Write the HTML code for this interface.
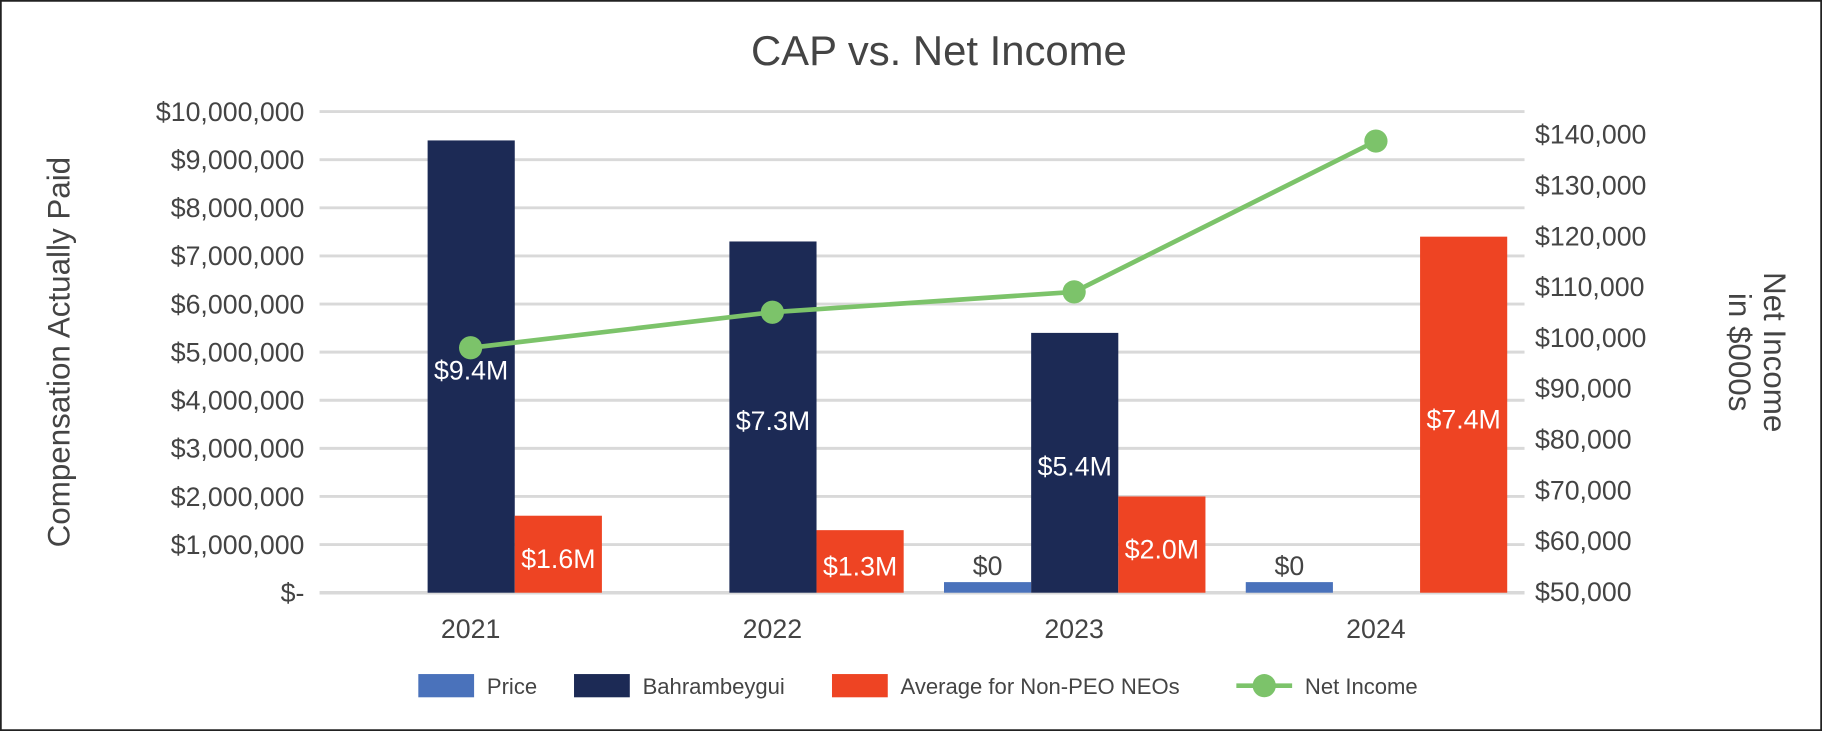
<!DOCTYPE html>
<html><head><meta charset="utf-8"><style>
html,body{margin:0;padding:0;background:#fff}
svg{display:block;font-family:"Liberation Sans",Arial,sans-serif}
</style></head><body>
<svg id="chart" width="1822" height="731" viewBox="0 0 1568 629" preserveAspectRatio="none" xmlns="http://www.w3.org/2000/svg">
<rect x="0.5" y="0.5" width="1567" height="628" fill="#fff" stroke="#222" stroke-width="2"/>
<text x="808" y="56" text-anchor="middle" font-size="36" fill="#444">CAP vs. Net Income</text>
<g id="grid"></g><g id="bars"></g><g id="line"></g><g id="labels"></g>
<text transform="translate(60,303) rotate(-90)" text-anchor="middle" font-size="27" fill="#444">Compensation Actually Paid</text>
<text transform="translate(1514,303) rotate(90)" text-anchor="middle" font-size="27" fill="#444"><tspan x="0" dy="-4">Net Income</tspan><tspan x="0" dy="30">in $000s</tspan></text>
<g font-size="19" fill="#444">
<rect x="360" y="580" width="48" height="20" fill="#4a72bb"/>
<text x="419" y="597">Price</text>
<rect x="494" y="580" width="48" height="20" fill="#1c2a55"/>
<text x="553" y="597">Bahrambeygui</text>
<rect x="716" y="580" width="48" height="20" fill="#ee4423"/>
<text x="775" y="597">Average for Non-PEO NEOs</text>
<line x1="1064" y1="590" x2="1112" y2="590" stroke="#7cc36a" stroke-width="4"/>
<circle cx="1088" cy="590" r="10" fill="#7cc36a"/>
<text x="1123" y="597">Net Income</text>
</g>
</svg>
<script>
const categories=["2021","2022","2023","2024"];
const priceVals=[0,0,220000,220000];
const priceLabels=["","","$0","$0"];
const bahrVals=[9400000,7300000,5400000,0];
const bahrLabels=["$9.4M","$7.3M","$5.4M",""];
const avgVals=[1600000,1300000,2000000,7400000];
const avgLabels=["$1.6M","$1.3M","$2.0M","$7.4M"];
const netIncome=[98000,105000,109000,138700];
const leftTicks=[0,1e6,2e6,3e6,4e6,5e6,6e6,7e6,8e6,9e6,10e6];
const leftTickLabels=["$-","$1,000,000","$2,000,000","$3,000,000","$4,000,000","$5,000,000","$6,000,000","$7,000,000","$8,000,000","$9,000,000","$10,000,000"];
const rightTicks=[50000,60000,70000,80000,90000,100000,110000,120000,130000,140000];
const rightTickLabels=["$50,000","$60,000","$70,000","$80,000","$90,000","$100,000","$110,000","$120,000","$130,000","$140,000"];

const NS="http://www.w3.org/2000/svg";
const yL=v=>510-v/1e7*414;
const yR=v=>509-(v-50000)/10000*43.7;
const xC=i=>405+i*259.7;
function mk(tag,attrs,parent,text){const e=document.createElementNS(NS,tag);for(const k in attrs)e.setAttribute(k,attrs[k]);if(text!==undefined)e.textContent=text;parent.appendChild(e);return e;}
const grid=document.getElementById('grid'),bars=document.getElementById('bars'),line=document.getElementById('line'),labels=document.getElementById('labels');
leftTicks.forEach((t,i)=>{
  const l=mk('line',{x1:275,x2:1312,y1:yL(t),y2:yL(t),stroke:'#d9d9d9','stroke-width':i===0?3:2.5},grid);
  
  
  const tx=mk('text',{x:262,y:yL(t)+8,'text-anchor':'end','font-size':23,fill:'#444'},grid,leftTickLabels[i]);
  
  
});
rightTicks.forEach((t,i)=>{
  const tx=mk('text',{x:1321,y:yR(t)+8,'font-size':23,fill:'#444'},grid,rightTickLabels[i]);
  
  
});
categories.forEach((c,i)=>{
  const cx=xC(i);
  const tx=mk('text',{x:cx,y:549,'text-anchor':'middle','font-size':23,fill:'#444'},labels,c);
  
  
  const series=[[priceVals,'#4a72bb',-112,priceLabels,'price'],[bahrVals,'#1c2a55',-37,bahrLabels,'bahrambeygui'],[avgVals,'#ee4423',38,avgLabels,'avg-non-peo']];
  series.forEach(([vals,col,off,lbls,nm])=>{
    const v=vals[i];
    if(v>0){
      const r=mk('rect',{x:cx+off,y:yL(v),width:75,height:510-yL(v),fill:col},bars);
      
      
    }
    if(lbls[i]){
      const mid=(yL(v)+510)/2;
      let ly,fill='#fff';
      if(nm==='price'){ly=yL(v)-6;fill='#444';}
      else if(nm==='bahrambeygui'){ly=mid+11;}
      else{ly=Math.max(Math.min(mid+12,497),mid+6);if(mid+12>497)ly=497;}
      const t=mk('text',{x:cx+off+37.5,y:ly,'text-anchor':'middle','font-size':23,fill:fill},labels,lbls[i]);
      
      
    }
  });
});
const pts=netIncome.map((v,i)=>xC(i)+','+yR(v)).join(' ');
const pl=mk('polyline',{points:pts,fill:'none',stroke:'#7cc36a','stroke-width':4},line);


netIncome.forEach((v,i)=>{
  const c=mk('circle',{cx:xC(i),cy:yR(v),r:10,fill:'#7cc36a'},line);
  
  
});
</script>
</body></html>
